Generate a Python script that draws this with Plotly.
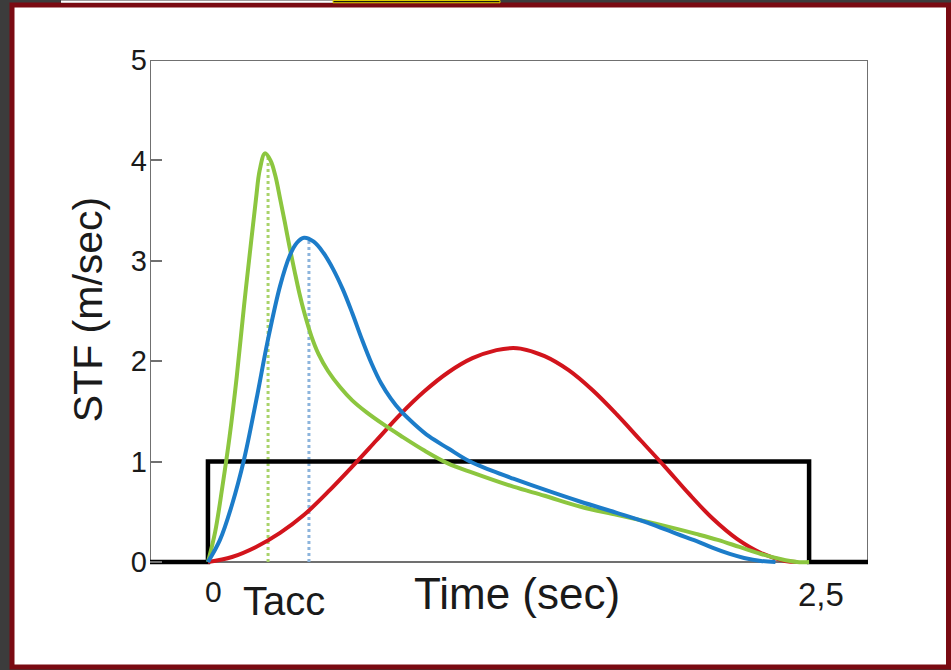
import plotly.graph_objects as go

# Source time functions: time (sec) and slip rate STF (m/sec)
green_t = [0, 0.03, 0.06, 0.09, 0.12, 0.15, 0.18, 0.20, 0.215, 0.237, 0.26, 0.28,
           0.30, 0.32, 0.34, 0.36, 0.38, 0.40, 0.43, 0.46, 0.50, 0.55, 0.60, 0.66,
           0.73, 0.80, 0.90, 1.0, 1.1, 1.27, 1.4, 1.55, 1.7, 1.83, 1.95, 2.03,
           2.12, 2.21, 2.3, 2.38, 2.45, 2.5]
green_v = [0, 0.3, 0.75, 1.25, 1.85, 2.55, 3.2, 3.62, 3.9, 4.07, 4.0, 3.85,
           3.62, 3.38, 3.13, 2.90, 2.68, 2.49, 2.25, 2.07, 1.90, 1.74, 1.61, 1.49,
           1.37, 1.26, 1.11, 0.98, 0.89, 0.75, 0.66, 0.55, 0.47, 0.40, 0.33, 0.28,
           0.22, 0.15, 0.08, 0.03, 0.0, 0.0]

blue_t = [0, 0.05, 0.10, 0.15, 0.20, 0.25, 0.30, 0.34, 0.37, 0.40, 0.44, 0.48,
          0.52, 0.56, 0.60, 0.64, 0.68, 0.72, 0.76, 0.80, 0.86, 0.92, 1.0, 1.09,
          1.18, 1.27, 1.4, 1.55, 1.7, 1.83, 1.95, 2.03, 2.1, 2.17, 2.23, 2.3, 2.36]
blue_v = [0, 0.22, 0.57, 1.02, 1.6, 2.22, 2.75, 3.05, 3.18, 3.23, 3.19, 3.08,
          2.92, 2.72, 2.48, 2.22, 1.98, 1.78, 1.63, 1.51, 1.37, 1.25, 1.13, 1.0,
          0.91, 0.83, 0.72, 0.60, 0.49, 0.39, 0.28, 0.21, 0.14, 0.08, 0.04, 0.01, 0.0]

red_t = [0, 0.1, 0.2, 0.3, 0.4, 0.5, 0.6, 0.7, 0.8, 0.9, 1.0, 1.1, 1.2, 1.256,
         1.3, 1.4, 1.5, 1.6, 1.7, 1.8, 1.9, 2.0, 2.1, 2.2, 2.3, 2.4, 2.45]
red_v = [0, 0.05, 0.15, 0.29, 0.47, 0.70, 0.95, 1.21, 1.47, 1.70, 1.89, 2.03, 2.11, 2.13,
         2.125, 2.05, 1.91, 1.71, 1.47, 1.21, 0.95, 0.68, 0.43, 0.23, 0.09, 0.01, 0.0]

# Boxcar (constant slip rate over the 2.5 s rupture duration)
box_t = [-0.241, 0, 0, 2.5, 2.5, 2.745]
box_v = [0, 0, 1, 1, 0, 0]

# Peak times (acceleration time) marked with dotted verticals
green_peak = (0.25, 4.05)
blue_peak = (0.42, 3.2)

y_ticks = [0, 1, 2, 3, 4, 5]
x_range = [-0.241, 2.745]
y_range = [-0.03, 5.0]

GREEN = "#8cc63f"
BLUE = "#1c7cc9"
RED = "#d2141c"
TEXT = "#1a1a1a"
FONT = "Liberation Sans, Arial, sans-serif"

W, H = 951, 670
L, R, T, B = 150, 83, 59.5, 105
pw, ph = W - L - R, H - T - B


def px(X):
    return (X - L) / pw


def py(Y):
    return (H - B - Y) / ph


def tx(t):
    # time value -> paper fraction along the x axis
    return (t - x_range[0]) / (x_range[1] - x_range[0])


fig = go.Figure()

# dotted markers at the peaks
for (t, v), c in [(green_peak, "#a9d36a"), (blue_peak, "#8cb4dc")]:
    fig.add_trace(go.Scatter(x=[t, t], y=[0, v], mode="lines",
                             line=dict(color=c, width=3, dash="dot"),
                             hoverinfo="skip", showlegend=False))

fig.add_trace(go.Scatter(x=box_t, y=box_v, mode="lines",
                         line=dict(color="#000000", width=4.5), showlegend=False))
for t, v, c in [(red_t, red_v, RED), (green_t, green_v, GREEN), (blue_t, blue_v, BLUE)]:
    fig.add_trace(go.Scatter(x=t, y=v, mode="lines",
                             line=dict(color=c, width=4, shape="spline", smoothing=1.0),
                             showlegend=False))

shapes = [
    # white panel with dark red border
    dict(type="rect", xref="paper", yref="paper", layer="below",
         x0=px(12), x1=px(948.5), y0=py(4.5), y1=py(667),
         fillcolor="#ffffff", line=dict(color="#7a0a12", width=5)),
    # strip along the top edge
    dict(type="rect", xref="paper", yref="paper", layer="below",
         x0=px(61), x1=px(333), y0=py(0), y1=py(2.2),
         fillcolor="#ffffff", line=dict(width=0)),
    dict(type="rect", xref="paper", yref="paper", layer="below",
         x0=px(333), x1=px(500), y0=py(0), y1=py(2.2),
         fillcolor="#111111", line=dict(color="#e8d800", width=1)),
    # plot frame
    dict(type="rect", xref="x", yref="y", layer="below",
         x0=x_range[0], x1=x_range[1], y0=0, y1=5,
         fillcolor="#ffffff", line=dict(color="#707070", width=2)),
]


def label(text, t, Y, size):
    return dict(text=text, xref="paper", yref="paper", x=tx(t), y=py(Y),
                xanchor="center", yanchor="middle", showarrow=False,
                font=dict(size=size, color=TEXT, family=FONT))


annotations = [
    dict(text="STF (m/sec)", xref="paper", yref="paper", x=px(88), y=py(310),
         xanchor="center", yanchor="middle", textangle=-90, showarrow=False,
         font=dict(size=41, color=TEXT, family=FONT)),
    label("0", 0.025, 592, 30),
    label("Tacc", 0.316, 601, 40),
    label("Time (sec)", 1.285, 594, 44),
    label("2,5", 2.55, 595, 33),
]

fig.update_layout(
    width=W, height=H,
    margin=dict(l=L, r=R, t=T, b=B),
    paper_bgcolor="#3c3c3c",
    plot_bgcolor="rgba(0,0,0,0)",
    shapes=shapes,
    annotations=annotations,
    showlegend=False,
    xaxis=dict(range=x_range, showgrid=False, zeroline=False, showline=False,
               showticklabels=False, ticks=""),
    yaxis=dict(range=y_range, showgrid=False, zeroline=False, showline=False,
               tickvals=y_ticks, ticktext=[str(v) for v in y_ticks],
               ticks="inside", ticklen=12, tickwidth=2, tickcolor="#707070",
               tickfont=dict(size=29, color=TEXT, family=FONT),
               ticklabelstandoff=2),
)

fig.write_html("out.html")
